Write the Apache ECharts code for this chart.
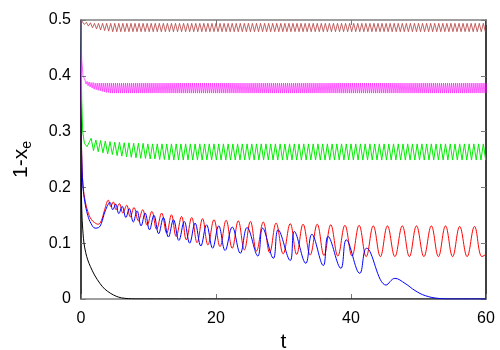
<!DOCTYPE html>
<html>
<head>
<meta charset="utf-8">
<script src="https://cdn.jsdelivr.net/npm/echarts@6/dist/echarts.min.js"></script>
<style>
  html, body { margin: 0; padding: 0; background: #fff; }
  #chart { width: 500px; height: 350px; }
</style>
</head>
<body>
<div id="chart"></div>
<script>
  // axis ticks
  var xTicks = [0, 20, 40, 60];
  var yTicks = [0, 0.1, 0.2, 0.3, 0.4, 0.5];

  // black curve
  var blackT = [0, 0.05, 0.15, 0.3, 0.44, 0.7, 1.0, 1.4, 2.0, 2.8, 3.5, 4.4, 5.2, 6.0, 7.0, 8.0, 60];
  var blackV = [0.5, 0.2, 0.147, 0.118, 0.1, 0.083, 0.07, 0.058, 0.043, 0.028, 0.018, 0.010, 0.005, 0.002, 0.0007, 0.0002, 0];

  // red curve (peaks / troughs)
  var redT = [0, 0.05, 0.15, 0.3, 0.55, 1.0, 1.5, 2.0, 2.55, 3.0,
    3.5, 4.05, 4.4, 4.79, 5.2, 5.68, 6.2, 6.77, 7.3, 7.85,
    8.5, 9.14, 9.8, 10.5, 11.2, 11.95, 12.7, 13.4, 14.1, 14.9,
    15.6, 16.4, 17.2, 18.0, 18.8, 19.7, 20.6, 21.5, 22.4, 23.3,
    24.2, 25.1, 26.0, 27.0, 27.95, 28.9, 29.95, 31.0, 31.95, 32.9,
    33.95, 35.0, 36.0, 37.0, 38.05, 39.1, 40.15, 41.2, 42.25, 43.3,
    44.35, 45.4, 46.5, 47.6, 48.65, 49.7, 50.8, 51.9, 52.95, 54.0,
    55.05, 56.1, 57.2, 58.3, 59.4, 60];
  var redV = [0.5, 0.3, 0.24, 0.205, 0.18, 0.157, 0.143, 0.137, 0.134, 0.140,
    0.160, 0.177, 0.166, 0.174, 0.160, 0.171, 0.154, 0.168, 0.147, 0.164,
    0.140, 0.160, 0.132, 0.157, 0.125, 0.154, 0.118, 0.151, 0.112, 0.148,
    0.106, 0.146, 0.101, 0.144, 0.097, 0.142, 0.094, 0.141, 0.091, 0.140,
    0.088, 0.139, 0.086, 0.138, 0.083, 0.136, 0.081, 0.135, 0.080, 0.134,
    0.079, 0.134, 0.078, 0.133, 0.077, 0.132, 0.077, 0.132, 0.076, 0.131,
    0.076, 0.131, 0.076, 0.131, 0.076, 0.131, 0.076, 0.131, 0.076, 0.131,
    0.076, 0.130, 0.076, 0.130, 0.076, 0.080];

  // blue curve (peaks / troughs)
  var blueT = [0, 0.05, 0.15, 0.3, 0.55, 1.0, 1.5, 2.1, 2.6, 3.0,
    3.6, 4.3, 4.7, 5.15, 5.6, 6.1, 6.65, 7.15, 7.75, 8.3,
    8.9, 9.5, 10.15, 10.8, 11.5, 12.2, 12.95, 13.7, 14.5, 15.3,
    16.1, 16.9, 17.75, 18.6, 19.5, 20.4, 21.35, 22.4, 23.6, 24.6,
    26.2, 26.9, 28.5, 29.2, 31.0, 31.6, 33.3, 34.2, 35.9, 36.6,
    38.5, 39.3, 41.3, 42.3, 45.2, 46.5, 48.0, 49.5, 51.0, 53.0,
    55.0, 60];
  var blueV = [0.5, 0.3, 0.235, 0.2, 0.175, 0.150, 0.135, 0.127, 0.128, 0.135,
    0.158, 0.173, 0.160, 0.170, 0.153, 0.166, 0.146, 0.162, 0.138, 0.158,
    0.131, 0.154, 0.124, 0.150, 0.117, 0.146, 0.111, 0.142, 0.105, 0.139,
    0.100, 0.136, 0.095, 0.133, 0.091, 0.131, 0.087, 0.129, 0.082, 0.128,
    0.077, 0.127, 0.073, 0.124, 0.069, 0.121, 0.064, 0.116, 0.060, 0.112,
    0.055, 0.106, 0.046, 0.091, 0.025, 0.037, 0.028, 0.015, 0.006, 0.001,
    0, 0];

  // green curve: start, then peaks/troughs each period
  var greenHeadT = [0, 0.1, 0.25, 0.5, 0.9];
  var greenHeadV = [0.5, 0.36, 0.30, 0.279, 0.273];
  var greenStart = 1.5;
  var greenPeriod = 0.7;
  var greenHi = [0.288, 0.285, 0.284, 0.283, 0.282, 0.281, 0.281, 0.280, 0.280, 0.279,
    0.279, 0.279, 0.278, 0.278, 0.278, 0.278, 0.278, 0.278, 0.278, 0.278,
    0.278, 0.278, 0.278, 0.278, 0.278, 0.278, 0.278, 0.278, 0.278, 0.278,
    0.278, 0.278, 0.278, 0.278, 0.278, 0.278, 0.278, 0.278, 0.278, 0.278,
    0.278, 0.278, 0.278, 0.278, 0.278, 0.278, 0.278, 0.278, 0.278, 0.278,
    0.278, 0.278, 0.278, 0.278, 0.278, 0.278, 0.278, 0.278, 0.278, 0.278,
    0.278, 0.278, 0.278, 0.278, 0.278, 0.278, 0.278, 0.278, 0.278, 0.278,
    0.278, 0.278, 0.278, 0.278, 0.278, 0.278, 0.278, 0.278, 0.278, 0.278,
    0.278, 0.278, 0.278, 0.278];
  var greenLo = [0.266, 0.264, 0.262, 0.260, 0.259, 0.257, 0.256, 0.255, 0.254, 0.253,
    0.252, 0.252, 0.251, 0.251, 0.250, 0.250, 0.249, 0.249, 0.249, 0.249,
    0.249, 0.249, 0.249, 0.249, 0.249, 0.249, 0.249, 0.249, 0.249, 0.249,
    0.249, 0.249, 0.249, 0.249, 0.249, 0.249, 0.249, 0.249, 0.249, 0.249,
    0.249, 0.249, 0.249, 0.249, 0.249, 0.249, 0.249, 0.249, 0.249, 0.249,
    0.249, 0.249, 0.249, 0.249, 0.249, 0.249, 0.249, 0.249, 0.249, 0.249,
    0.249, 0.249, 0.249, 0.249, 0.249, 0.249, 0.249, 0.249, 0.249, 0.249,
    0.249, 0.249, 0.249, 0.249, 0.249, 0.249, 0.249, 0.249, 0.249, 0.249,
    0.249, 0.249, 0.249, 0.249];

  // magenta curve
  var magentaHeadT = [0, 0.1, 0.3];
  var magentaHeadV = [0.5, 0.43, 0.40];
  var magentaStart = 0.6;
  var magentaPeriod = 0.3;
  var magentaHi = [0.392, 0.390, 0.389, 0.388, 0.388, 0.387, 0.387, 0.387, 0.387, 0.387,
    0.387, 0.387, 0.387, 0.387, 0.387, 0.387, 0.387, 0.387, 0.387, 0.387,
    0.387, 0.387, 0.387, 0.387, 0.387, 0.387, 0.387, 0.387, 0.387, 0.387,
    0.387, 0.387, 0.387, 0.387, 0.387, 0.387, 0.387, 0.387, 0.387, 0.387,
    0.387, 0.387, 0.387, 0.387, 0.387, 0.387, 0.387, 0.387, 0.387, 0.387,
    0.387, 0.387, 0.387, 0.387, 0.387, 0.387, 0.387, 0.387, 0.387, 0.387,
    0.387, 0.387, 0.387, 0.387, 0.387, 0.387, 0.387, 0.387, 0.387, 0.387,
    0.387, 0.387, 0.387, 0.387, 0.387, 0.387, 0.387, 0.387, 0.387, 0.387,
    0.387, 0.387, 0.387, 0.387, 0.387, 0.387, 0.387, 0.387, 0.387, 0.387,
    0.387, 0.387, 0.387, 0.387, 0.387, 0.387, 0.387, 0.387, 0.387, 0.387,
    0.387, 0.387, 0.387, 0.387, 0.387, 0.387, 0.387, 0.387, 0.387, 0.387,
    0.387, 0.387, 0.387, 0.387, 0.387, 0.387, 0.387, 0.387, 0.387, 0.387,
    0.387, 0.387, 0.387, 0.387, 0.387, 0.387, 0.387, 0.387, 0.387, 0.387,
    0.387, 0.387, 0.387, 0.387, 0.387, 0.387, 0.387, 0.387, 0.387, 0.387,
    0.387, 0.387, 0.387, 0.387, 0.387, 0.387, 0.387, 0.387, 0.387, 0.387,
    0.387, 0.387, 0.387, 0.387, 0.387, 0.387, 0.387, 0.387, 0.387, 0.387,
    0.387, 0.387, 0.387, 0.387, 0.387, 0.387, 0.387, 0.387, 0.387, 0.387,
    0.387, 0.387, 0.387, 0.387, 0.387, 0.387, 0.387, 0.387, 0.387, 0.387,
    0.387, 0.387, 0.387, 0.387, 0.387, 0.387, 0.387, 0.387, 0.387, 0.387,
    0.387, 0.387, 0.387, 0.387, 0.387, 0.387, 0.387, 0.387, 0.387, 0.387];
  var magentaLo = [0.385, 0.382, 0.380, 0.378, 0.376, 0.375, 0.374, 0.373, 0.372, 0.371,
    0.370, 0.370, 0.369, 0.369, 0.369, 0.369, 0.369, 0.369, 0.369, 0.369,
    0.369, 0.369, 0.369, 0.369, 0.369, 0.369, 0.369, 0.369, 0.369, 0.369,
    0.369, 0.369, 0.369, 0.369, 0.369, 0.369, 0.369, 0.369, 0.369, 0.369,
    0.369, 0.369, 0.369, 0.369, 0.369, 0.369, 0.369, 0.369, 0.369, 0.369,
    0.369, 0.369, 0.369, 0.369, 0.369, 0.369, 0.369, 0.369, 0.369, 0.369,
    0.369, 0.369, 0.369, 0.369, 0.369, 0.369, 0.369, 0.369, 0.369, 0.369,
    0.369, 0.369, 0.369, 0.369, 0.369, 0.369, 0.369, 0.369, 0.369, 0.369,
    0.369, 0.369, 0.369, 0.369, 0.369, 0.369, 0.369, 0.369, 0.369, 0.369,
    0.369, 0.369, 0.369, 0.369, 0.369, 0.369, 0.369, 0.369, 0.369, 0.369,
    0.369, 0.369, 0.369, 0.369, 0.369, 0.369, 0.369, 0.369, 0.369, 0.369,
    0.369, 0.369, 0.369, 0.369, 0.369, 0.369, 0.369, 0.369, 0.369, 0.369,
    0.369, 0.369, 0.369, 0.369, 0.369, 0.369, 0.369, 0.369, 0.369, 0.369,
    0.369, 0.369, 0.369, 0.369, 0.369, 0.369, 0.369, 0.369, 0.369, 0.369,
    0.369, 0.369, 0.369, 0.369, 0.369, 0.369, 0.369, 0.369, 0.369, 0.369,
    0.369, 0.369, 0.369, 0.369, 0.369, 0.369, 0.369, 0.369, 0.369, 0.369,
    0.369, 0.369, 0.369, 0.369, 0.369, 0.369, 0.369, 0.369, 0.369, 0.369,
    0.369, 0.369, 0.369, 0.369, 0.369, 0.369, 0.369, 0.369, 0.369, 0.369,
    0.369, 0.369, 0.369, 0.369, 0.369, 0.369, 0.369, 0.369, 0.369, 0.369,
    0.369, 0.369, 0.369, 0.369, 0.369, 0.369, 0.369, 0.369, 0.369, 0.369];

  // brown curve
  var brownHeadT = [0, 0.1];
  var brownHeadV = [0.5, 0.497];
  var brownStart = 0.2;
  var brownPeriod = 0.6;
  var brownHi = [0.498, 0.496, 0.495, 0.494, 0.494, 0.494, 0.494, 0.494, 0.494, 0.494,
    0.494, 0.494, 0.494, 0.494, 0.494, 0.494, 0.494, 0.494, 0.494, 0.494,
    0.494, 0.494, 0.494, 0.494, 0.494, 0.494, 0.494, 0.494, 0.494, 0.494,
    0.494, 0.494, 0.494, 0.494, 0.494, 0.494, 0.494, 0.494, 0.494, 0.494,
    0.494, 0.494, 0.494, 0.494, 0.494, 0.494, 0.494, 0.494, 0.494, 0.494,
    0.494, 0.494, 0.494, 0.494, 0.494, 0.494, 0.494, 0.494, 0.494, 0.494,
    0.494, 0.494, 0.494, 0.494, 0.494, 0.494, 0.494, 0.494, 0.494, 0.494,
    0.494, 0.494, 0.494, 0.494, 0.494, 0.494, 0.494, 0.494, 0.494, 0.494,
    0.494, 0.494, 0.494, 0.494, 0.494, 0.494, 0.494, 0.494, 0.494, 0.494,
    0.494, 0.494, 0.494, 0.494, 0.494, 0.494, 0.494, 0.494, 0.494, 0.494];
  var brownLo = [0.492, 0.489, 0.486, 0.484, 0.482, 0.481, 0.480, 0.479, 0.479, 0.479,
    0.479, 0.479, 0.479, 0.479, 0.479, 0.479, 0.479, 0.479, 0.479, 0.479,
    0.479, 0.479, 0.479, 0.479, 0.479, 0.479, 0.479, 0.479, 0.479, 0.479,
    0.479, 0.479, 0.479, 0.479, 0.479, 0.479, 0.479, 0.479, 0.479, 0.479,
    0.479, 0.479, 0.479, 0.479, 0.479, 0.479, 0.479, 0.479, 0.479, 0.479,
    0.479, 0.479, 0.479, 0.479, 0.479, 0.479, 0.479, 0.479, 0.479, 0.479,
    0.479, 0.479, 0.479, 0.479, 0.479, 0.479, 0.479, 0.479, 0.479, 0.479,
    0.479, 0.479, 0.479, 0.479, 0.479, 0.479, 0.479, 0.479, 0.479, 0.479,
    0.479, 0.479, 0.479, 0.479, 0.479, 0.479, 0.479, 0.479, 0.479, 0.479,
    0.479, 0.479, 0.479, 0.479, 0.479, 0.479, 0.479, 0.479, 0.479, 0.479];

  var font = 'Liberation Sans, Arial, sans-serif';

  function pairs(ts, vs) {
    var out = [];
    for (var i = 0; i < ts.length; i++) {
      out.push([ts[i], vs[i]]);
    }
    return out;
  }

  // head points, then one peak and one trough per period
  function band(headT, headV, start, period, hi, lo) {
    var out = pairs(headT, headV);
    for (var i = 0; i < hi.length; i++) {
      out.push([start + i * period, hi[i]]);
      if (i < lo.length) {
        out.push([start + i * period + period / 2, lo[i]]);
      }
    }
    return out;
  }

  function line(name, color, data, smooth, width, opacity) {
    return {
      name: name,
      type: 'line',
      data: data,
      showSymbol: false,
      smooth: smooth,
      clip: true,
      lineStyle: { color: color, width: width || 1, opacity: opacity || 1 },
      itemStyle: { color: color }
    };
  }

  var chart = echarts.init(document.getElementById('chart'));

  var tickStyle = { inside: true, length: 5, lineStyle: { color: '#777', width: 1 } };

  var option = {
    animation: false,
    backgroundColor: '#fff',
    grid: { left: 81, right: 14, top: 20, bottom: 51, containLabel: false, outerBoundsMode: 'none' },
    xAxis: [
      {
        type: 'value',
        position: 'bottom',
        min: xTicks[0],
        max: xTicks[xTicks.length - 1],
        interval: 20,
        axisLine: { show: true, onZero: false, lineStyle: { color: '#808080', width: 1.5 } },
        axisTick: tickStyle,
        axisLabel: { fontSize: 16, color: '#000', margin: 12, fontFamily: font },
        splitLine: { show: false },
        name: 't',
        nameLocation: 'middle',
        nameGap: 31,
        nameTextStyle: { fontSize: 21, color: '#000', fontFamily: font }
      },
      {
        type: 'value',
        position: 'top',
        min: xTicks[0],
        max: xTicks[xTicks.length - 1],
        interval: 20,
        axisLine: { show: true, onZero: false, lineStyle: { color: '#808080', width: 1.5 } },
        axisTick: tickStyle,
        axisLabel: { show: false },
        splitLine: { show: false }
      }
    ],
    yAxis: [
      {
        type: 'value',
        position: 'left',
        min: yTicks[0],
        max: yTicks[yTicks.length - 1],
        interval: 0.1,
        axisLine: { show: true, onZero: false, lineStyle: { color: '#000', width: 1.5 } },
        axisTick: tickStyle,
        axisLabel: { fontSize: 16, color: '#000', margin: 10, fontFamily: font },
        splitLine: { show: false },
        name: '1-x{sub|e}',
        nameLocation: 'middle',
        nameRotate: 90,
        nameGap: 47,
        nameTextStyle: {
          fontSize: 21,
          color: '#000',
          fontFamily: font,
          rich: {
            sub: { fontSize: 14, color: '#000', fontFamily: font, padding: [12, 0, 0, 0] }
          }
        }
      },
      {
        type: 'value',
        position: 'right',
        min: yTicks[0],
        max: yTicks[yTicks.length - 1],
        interval: 0.1,
        axisLine: { show: true, onZero: false, lineStyle: { color: '#000', width: 1.5 } },
        axisTick: tickStyle,
        axisLabel: { show: false },
        splitLine: { show: false }
      }
    ],
    series: [
      line('black', '#000000', pairs(blackT, blackV), 0.3),
      line('red', '#ff0000', pairs(redT, redV), 0.4),
      line('blue', '#0000ff', pairs(blueT, blueV), 0.4),
      line('green', '#00ee00', band(greenHeadT, greenHeadV, greenStart, greenPeriod, greenHi, greenLo), false),
      line('magenta', '#ff00ff', band(magentaHeadT, magentaHeadV, magentaStart, magentaPeriod, magentaHi, magentaLo), false, 0.8, 0.75),
      line('brown', '#b84848', band(brownHeadT, brownHeadV, brownStart, brownPeriod, brownHi, brownLo), false, 1, 0.85)
    ]
  };

  chart.setOption(option);
</script>
</body>
</html>
